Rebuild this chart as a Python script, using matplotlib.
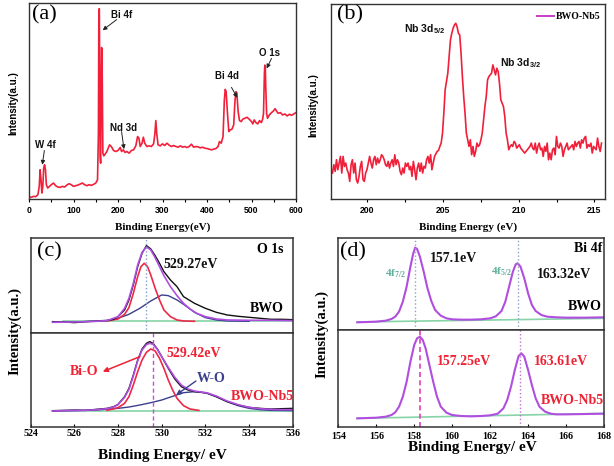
import numpy as np
import matplotlib
matplotlib.use('Agg')
import matplotlib.pyplot as plt
from matplotlib.lines import Line2D
from matplotlib.ticker import MultipleLocator

SERIF = 'Liberation Serif'
SANS = 'Liberation Sans'
plt.rcParams['mathtext.fontset'] = 'custom'
plt.rcParams['mathtext.rm'] = 'Liberation Serif:bold'
plt.rcParams['mathtext.sf'] = 'Liberation Sans:bold'
plt.rcParams['mathtext.it'] = 'Liberation Serif:bold'
plt.rcParams['mathtext.bf'] = 'Liberation Serif:bold'

# ---------------- data ----------------
# (a) survey spectrum
a_energy = [0,5,10,15,20,23,25,27,29,31,33,35,37,39,42,46,50,55,60,65,70,75,80,85,90,95,100,105,110,115,
            120,125,130,135,140,145,150,154,156,157,158,159,160,161,162,163,164,165,166,168,170,175,178,181,185,190,195,200,205,208,
            212,216,220,225,230,235,240,244,247,250,254,257,260,265,270,275,280,283,285,287,290,295,300,305,310,315,320,325,330,335,
            340,345,350,355,360,365,370,375,380,385,390,395,400,405,410,415,420,425,428,432,436,439,441,443,446,449,452,456,460,463,
            465,467,470,473,477,480,485,490,495,500,503,506,510,514,518,522,525,527,529,530,531,532,534,536,540,545,550,553,557,560,
            565,570,575,580,585,590,595,600]
a_counts = [6,5,8,7,13,38,88,58,18,38,93,103,88,43,33,38,43,48,40,36,35,38,36,42,46,43,38,40,42,45,
            48,43,40,43,41,44,48,58,198,568,573,330,128,108,298,456,453,298,138,130,133,143,153,163,158,146,143,146,155,143,
            148,140,143,138,146,148,160,188,183,158,168,186,168,158,160,158,166,198,236,198,163,160,166,161,168,162,158,161,158,156,
            160,156,158,155,158,165,156,158,157,154,156,153,152,150,148,150,152,158,173,168,188,298,330,323,258,203,208,210,223,298,
            323,320,263,236,233,240,243,246,240,233,226,238,230,226,236,230,240,258,378,403,400,338,258,243,253,260,266,272,263,258,
            260,253,256,250,255,252,256,260]

# (b) Nb 3d spectrum (evenly stepped energy scan)
b_start, b_end = 197.70, 215.47
b_counts = [78,103,83,118,88,108,128,78,128,98, 108,88,78,53,103,118,78,108,58,48,
            68,98,113,58,53,78,88,108,128,108, 93,118,128,103,123,108,118,133,128,118,
            103,98,113,93,108,118,98,133,103,118, 108,83,73,93,78,108,98,108,88,98,
            68,113,88,58,93,108,83,108,78,98, 93,118,128,108,133,88,108,128,136,143,
            146,158,168,198,258,328,353,378,428,478, 498,513,523,528,518,498,493,438,368,308,
            258,198,178,158,178,133,158,128,143,168, 158,163,178,198,238,278,308,358,368,373,
            378,403,388,373,393,383,348,298,288,278, 248,198,178,148,158,163,158,173,168,153,
            158,163,153,148,143,138,143,148,153,158, 168,153,148,168,138,158,168,148,153,128,
            158,143,168,118,138,118,148,153,133,188, 158,153,168,158,128,148,158,168,148,153,
            158,163,148,173,158,168,173,153,178,168, 183,188,153,163,158,168,138,158,153,148,
            183,158,143,168]

# (c) O 1s, BWO (upper)
c_up_x_raw = [525.0,525.5,526.0,526.5,527.0,527.5,527.8,528.0,528.3,528.5,528.7,528.9,529.1,529.3,529.5,529.7,529.9,
              530.1,530.4,530.7,531.0,531.5,532.0,532.5,533.0,533.5,534.0,534.5,535.0,535.5,536.0]
c_up_y_raw = [35,34,32,35,36,38,42,50,70,100,145,200,240,263,253,233,210,185,160,140,110,90,75,63,55,51,48,45,42,42,41]
c_up_x_env = [525.0,526.0,527.0,527.5,528.0,528.3,528.5,528.7,528.9,529.1,529.3,529.5,529.7,529.9,530.1,530.4,530.7,
              531.0,531.3,531.6,532.0,532.5,533.0,534.0,535.0,536.0]
c_up_y_env = [33,34,36,38,50,75,105,150,205,243,259,250,227,200,173,140,113,90,73,60,50,43,40,39,39,38]
c_up_x_bio = [527.5,528.0,528.3,528.5,528.7,528.9,529.05,529.2,529.35,529.5,529.7,529.9,530.1,530.4,530.7,531.0,531.5]
c_up_y_bio = [37,43,57,77,120,170,200,210,200,175,135,100,70,50,40,37,36]
c_up_x_wo = [525.5,526.5,527.5,528.0,528.5,529.0,529.5,530.0,530.3,530.7,531.0,531.5,532.0,532.5,533.0,534.0]
c_up_y_wo = [34,35,39,45,57,75,97,115,113,100,87,63,47,40,37,36]
c_up_x_bg = [525.5,536.0]
c_up_y_bg = [37,37]

# (c) O 1s, BWO-Nb5 (lower)
c_lo_x = [525.0,525.5,526.0,526.5,527.0,527.5,527.8,528.0,528.3,528.5,528.7,528.9,529.1,529.3,529.45,529.6,529.8,
          530.0,530.3,530.6,530.9,531.2,531.5,531.8,532.1,532.5,533.0,533.5,534.0,534.5,535.0,535.5,536.0]
c_lo_y_raw = [48,49,50,49,52,55,60,67,90,115,155,200,233,250,255,250,233,210,175,143,120,110,105,103,100,90,75,65,58,55,53,54,55]
c_lo_y_env = [47,48,49,49,51,54,59,66,88,112,152,197,230,246,250,247,232,210,178,148,125,113,107,104,101,92,77,66,58,54,52,51,51]
c_lo_x_bio = [527.5,528.0,528.3,528.5,528.7,528.9,529.1,529.3,529.5,529.7,529.9,530.1,530.3,530.5,530.7,531.0,531.3,531.7]
c_lo_y_bio = [49,57,70,90,125,165,200,223,233,227,205,175,140,110,85,63,53,49]
c_lo_x_wo = [525.0,526.0,527.0,528.0,528.5,529.0,529.5,530.0,530.5,531.0,531.5,532.0,532.5,533.0,533.5,534.0,534.5,535.0,536.0]
c_lo_y_wo = [47,48,50,55,59,65,72,80,91,102,105,102,90,75,63,55,51,49,48]
c_lo_x_bg = [525.0,536.0]
c_lo_y_bg = [48,48]

# (d) Bi 4f
d_up_x = [155.0,155.5,156.0,156.5,156.8,157.0,157.2,157.4,157.6,157.8,157.95,158.05,158.15,158.3,158.5,158.7,158.9,
          159.1,159.4,159.7,160.0,160.5,161.0,161.5,162.0,162.3,162.6,162.8,163.0,163.2,163.35,163.45,163.6,163.8,
          164.0,164.2,164.4,164.7,165.0,165.5,166.0,167.0,168.0]
d_up_y = [23,24,25,28,33,40,55,85,130,190,230,247,243,220,175,125,87,60,43,35,32,31,31,32,35,41,57,85,130,175,197,200,
          190,155,110,75,57,45,40,38,37,37,38]
d_up_x_bg = [155.0,168.0]
d_up_y_bg = [24,35]
d_lo_x = [155.0,155.5,156.0,156.5,156.8,157.0,157.2,157.4,157.6,157.8,158.0,158.15,158.3,158.45,158.6,158.8,159.0,
          159.2,159.4,159.7,160.0,160.5,161.0,161.5,162.0,162.4,162.7,162.9,163.1,163.3,163.5,163.65,163.8,164.0,
          164.2,164.4,164.6,164.9,165.2,165.5,166.0,167.0,168.0]
d_lo_y = [25,26,27,30,35,43,60,90,135,195,245,265,270,260,235,185,135,90,60,42,35,32,31,32,34,39,55,80,120,170,212,220,
          210,170,125,85,60,45,39,37,37,38,39]
d_lo_x_bg = [155.0,168.0]
d_lo_y_bg = [25,40]

c_peaks = [529.3, 529.58]
d_peaks_bwo = [158.05, 163.45]
d_peaks_nb = [158.28, 163.6]

# ---------------- styles ----------------
RED = '#f0203a'
PURPLE = '#b04ee0'
FRED = '#ec2a48'
NAVY = '#3b3f8c'
GREEN = '#86d4a8'
TXTRED = '#ee2233'
TEAL = '#5fae9a'

fig = plt.figure(figsize=(6.14, 4.66), dpi=100)
W, H = 614.0, 466.0
def box(l, t, r, b):
    return [l / W, 1 - b / H, (r - l) / W, (b - t) / H]

axA = fig.add_axes(box(29, 3, 296, 199))
axB = fig.add_axes(box(331, 4, 605, 199))
axCu = fig.add_axes(box(30.7, 238.3, 292.7, 333.3))
axCl = fig.add_axes(box(30.7, 333.3, 292.7, 426.7))
axDu = fig.add_axes(box(338.3, 238.3, 604, 330))
axDl = fig.add_axes(box(338.3, 330, 604, 426.7))

def sans_ticks(ax):
    ax.tick_params(axis='x', which='both', direction='out', pad=2.5, labelsize=6.2)
    ax.tick_params(axis='x', which='major', length=2.5, width=0.8)
    ax.tick_params(axis='x', which='minor', length=2, width=0.8)
    for lab in ax.get_xticklabels():
        lab.set_fontfamily(SANS); lab.set_fontweight('bold')
    ax.set_yticks([])
    for s in ax.spines.values():
        s.set_linewidth(1.0); s.set_color('#333333')

# ---- (a) ----
axA.plot(a_energy, a_counts, color=RED, lw=1.2)
axA.set_xlim(0, 600); axA.set_ylim(0, 590)
axA.xaxis.set_major_locator(MultipleLocator(100))
axA.xaxis.set_minor_locator(MultipleLocator(50))
sans_ticks(axA)
axA.text(6, 553, '(a)', fontfamily=SERIF, fontsize=16, va='center', ha='left')
afont = dict(fontfamily=SANS, fontweight='bold', fontsize=7, va='center', ha='left', color='#111111')
arr = dict(arrowstyle='-|>', color='#222222', lw=0.7, mutation_scale=6, shrinkA=0, shrinkB=0)
axA.text(184, 555, 'Bi 4f', **afont)
axA.annotate('', xy=(165.5, 508), xytext=(197, 540), arrowprops=arr)
axA.text(517, 438, 'O 1s', **afont)
axA.annotate('', xy=(534, 393), xytext=(545, 423), arrowprops=arr)
axA.text(419, 370, 'Bi 4d', **afont)
axA.annotate('', xy=(468, 305), xytext=(455, 336), arrowprops=arr)
axA.text(182, 215, 'Nd 3d', **afont)
axA.annotate('', xy=(213.5, 150), xytext=(208, 203), arrowprops=arr)
axA.text(13, 163, 'W 4f', **afont)
axA.annotate('', xy=(30, 103), xytext=(34.5, 146), arrowprops=arr)

# ---- (b) ----
b_energy = np.linspace(b_start, b_end, len(b_counts))
axB.plot(b_energy, b_counts, color=RED, lw=1.2)
axB.set_xlim(197.6, 215.7); axB.set_ylim(0, 586)
axB.xaxis.set_major_locator(MultipleLocator(5))
axB.xaxis.set_minor_locator(MultipleLocator(2.5))
sans_ticks(axB)
axB.text(198.0, 553, '(b)', fontfamily=SERIF, fontsize=16, va='center', ha='left')
bfont = dict(fontfamily=SANS, fontweight='bold', fontsize=7.6, va='center', ha='left', color='#111111')
axB.text(202.4, 510, 'Nb 3d$_{\\mathsf{5/2}}$', **bfont)
axB.text(208.75, 407, 'Nb 3d$_{\\mathsf{3/2}}$', **bfont)
leg = axB.legend(handles=[Line2D([], [], color='#c83cc8', lw=1.4)], labels=['BWO-Nb5'],
                 loc='center right', bbox_to_anchor=(0.985, 0.935), frameon=False,
                 handlelength=1.75, handletextpad=0.2, borderpad=0, borderaxespad=0,
                 prop=dict(family=SERIF, weight='bold', size=7))

# ---- (c) / (d) common ----
def serif_axes(ax, lo, hi, bottom):
    ax.set_xlim(lo, hi)
    ax.set_yticks([])
    for s in ax.spines.values():
        s.set_linewidth(1.1); s.set_color('#333333')
    ax.xaxis.set_major_locator(MultipleLocator(2))
    if bottom:
        ax.tick_params(axis='x', direction='in', length=2.5, width=0.8, pad=2, labelsize=7.2)
        for lab in ax.get_xticklabels():
            lab.set_fontfamily(SERIF); lab.set_fontweight('bold')
    else:
        ax.tick_params(axis='x', length=0, labelbottom=False)

cfont = dict(fontfamily=SERIF, fontweight='bold', fontsize=10, va='center', ha='left')

# (c) upper
axCu.plot(c_up_x_bg, c_up_y_bg, color=GREEN, lw=1.2)
axCu.plot(c_up_x_wo, c_up_y_wo, color=NAVY, lw=1.0)
axCu.plot(c_up_x_bio, c_up_y_bio, color=FRED, lw=1.2)
axCu.plot(c_up_x_raw, c_up_y_raw, color='#111111', lw=1.0)
axCu.plot(c_up_x_env, c_up_y_env, color=PURPLE, lw=1.2)
axCu.axvline(c_peaks[0], color='#7f9fcf', lw=1.0, ls=':')
axCu.set_ylim(0, 285)
serif_axes(axCu, 524, 536, False)
axCu.text(524.27, 245, '(c)', fontfamily=SERIF, fontsize=16, va='center', ha='left')
axCu.text(535.57, 250, 'O 1s', **{**cfont, 'ha': 'right'})
axCu.text(530.08, 207, '529.27eV', **cfont, color='#111111')
axCu.text(535.57, 75, 'BWO', **{**cfont, 'ha': 'right'})

# (c) lower
axCl.plot(c_lo_x_bg, c_lo_y_bg, color=GREEN, lw=1.2)
axCl.plot(c_lo_x_wo, c_lo_y_wo, color=NAVY, lw=1.0)
axCl.plot(c_lo_x_bio, c_lo_y_bio, color=FRED, lw=1.2)
axCl.plot(c_lo_x, c_lo_y_raw, color='#111111', lw=1.0)
axCl.plot(c_lo_x, c_lo_y_env, color=PURPLE, lw=1.2)
axCl.axvline(c_peaks[1], color='#c94fd0', lw=1.0, ls=(0, (3, 2)))
axCl.set_ylim(0, 280)
serif_axes(axCl, 524, 536, True)
axCl.text(530.23, 220, '529.42eV', **cfont, color=TXTRED)
axCl.text(525.8, 165, 'Bi-O', **cfont, color=TXTRED)
axCl.annotate('', xy=(527.3, 165), xytext=(529.0, 210),
              arrowprops=dict(arrowstyle='-|>', color=TXTRED, lw=1.1, mutation_scale=7, shrinkA=0, shrinkB=0))
axCl.text(531.6, 143, 'W-O', **cfont, color=NAVY)
axCl.annotate('', xy=(530.66, 95), xytext=(531.57, 137),
              arrowprops=dict(arrowstyle='-|>', color=NAVY, lw=1.0, mutation_scale=7, shrinkA=0, shrinkB=0))
axCl.text(536.05, 90, 'BWO-Nb5', **{**cfont, 'ha': 'right'}, color=TXTRED)

# (d) upper
axDu.plot(d_up_x_bg, d_up_y_bg, color=GREEN, lw=1.2)
axDu.plot(d_up_x, d_up_y, color=PURPLE, lw=1.5)
for p in d_peaks_bwo:
    axDu.axvline(p, color='#8f9fcf', lw=1.0, ls=':')
axDu.set_ylim(0, 275)
serif_axes(axDu, 154, 168, False)
axDu.text(154.1, 235, '(d)', fontfamily=SERIF, fontsize=16, va='center', ha='left')
axDu.text(158.84, 215, '157.1eV', **cfont, color='#111111')
axDu.text(164.48, 167, '163.32eV', **cfont, color='#111111')
axDu.text(167.9, 245, 'Bi 4f', **{**cfont, 'ha': 'right'})
axDu.text(167.9, 70, 'BWO', **{**cfont, 'ha': 'right'})
axDu.text(156.46, 170, '4f$_{\\mathrm{7/2}}$', fontfamily=SERIF, fontweight='bold', fontsize=8,
          color=TEAL, va='center', ha='left')
axDu.text(162.05, 175, '4f$_{\\mathrm{5/2}}$', fontfamily=SERIF, fontweight='bold', fontsize=8,
          color=TEAL, va='center', ha='left')

# (d) lower
axDl.plot(d_lo_x_bg, d_lo_y_bg, color=GREEN, lw=1.2)
axDl.plot(d_lo_x, d_lo_y, color=PURPLE, lw=1.5)
axDl.axvline(d_peaks_nb[0], color='#e040c0', lw=1.2, ls=(0, (3, 2)))
axDl.axvline(d_peaks_nb[1], color='#c070d0', lw=1.0, ls=':')
axDl.set_ylim(0, 290)
serif_axes(axDl, 154, 168, True)
axDl.tick_params(axis='x', pad=3.5)
axDl.text(159.19, 195, '157.25eV', **cfont, color=TXTRED)
axDl.text(164.3, 195, '163.61eV', **cfont, color=TXTRED)
axDl.text(168.0, 80, 'BWO-Nb5', **{**cfont, 'ha': 'right'}, color=TXTRED)

# ---- axis titles ----
fig.text(163 / W, 1 - 227 / H, 'Binding Energy(eV)', ha='center', va='center',
         fontfamily=SERIF, fontweight='bold', fontsize=8)
fig.text(468 / W, 1 - 227 / H, 'Binding Energy (eV)', ha='center', va='center',
         fontfamily=SERIF, fontweight='bold', fontsize=8)
fig.text(162 / W, 1 - 455 / H, 'Binding Energy/ eV', ha='center', va='center',
         fontfamily=SERIF, fontweight='bold', fontsize=11)
fig.text(472 / W, 1 - 447 / H, 'Binding Energy/ eV', ha='center', va='center',
         fontfamily=SERIF, fontweight='bold', fontsize=11)
fig.text(13 / W, 1 - 103 / H, 'Intensity(a.u.)', rotation=90, ha='center', va='center',
         fontfamily=SANS, fontweight='bold', fontsize=7)
fig.text(313 / W, 1 - 105 / H, 'Intensity(a.u.)', rotation=90, ha='center', va='center',
         fontfamily=SANS, fontweight='bold', fontsize=7)
fig.text(15 / W, 1 - 331 / H, 'Intensity(a.u.)', rotation=90, ha='center', va='center',
         fontfamily=SERIF, fontweight='bold', fontsize=10.5)
fig.text(322 / W, 1 - 334 / H, 'Intensity(a.u.)', rotation=90, ha='center', va='center',
         fontfamily=SERIF, fontweight='bold', fontsize=10.5)

fig.savefig('out.png', dpi=100)
